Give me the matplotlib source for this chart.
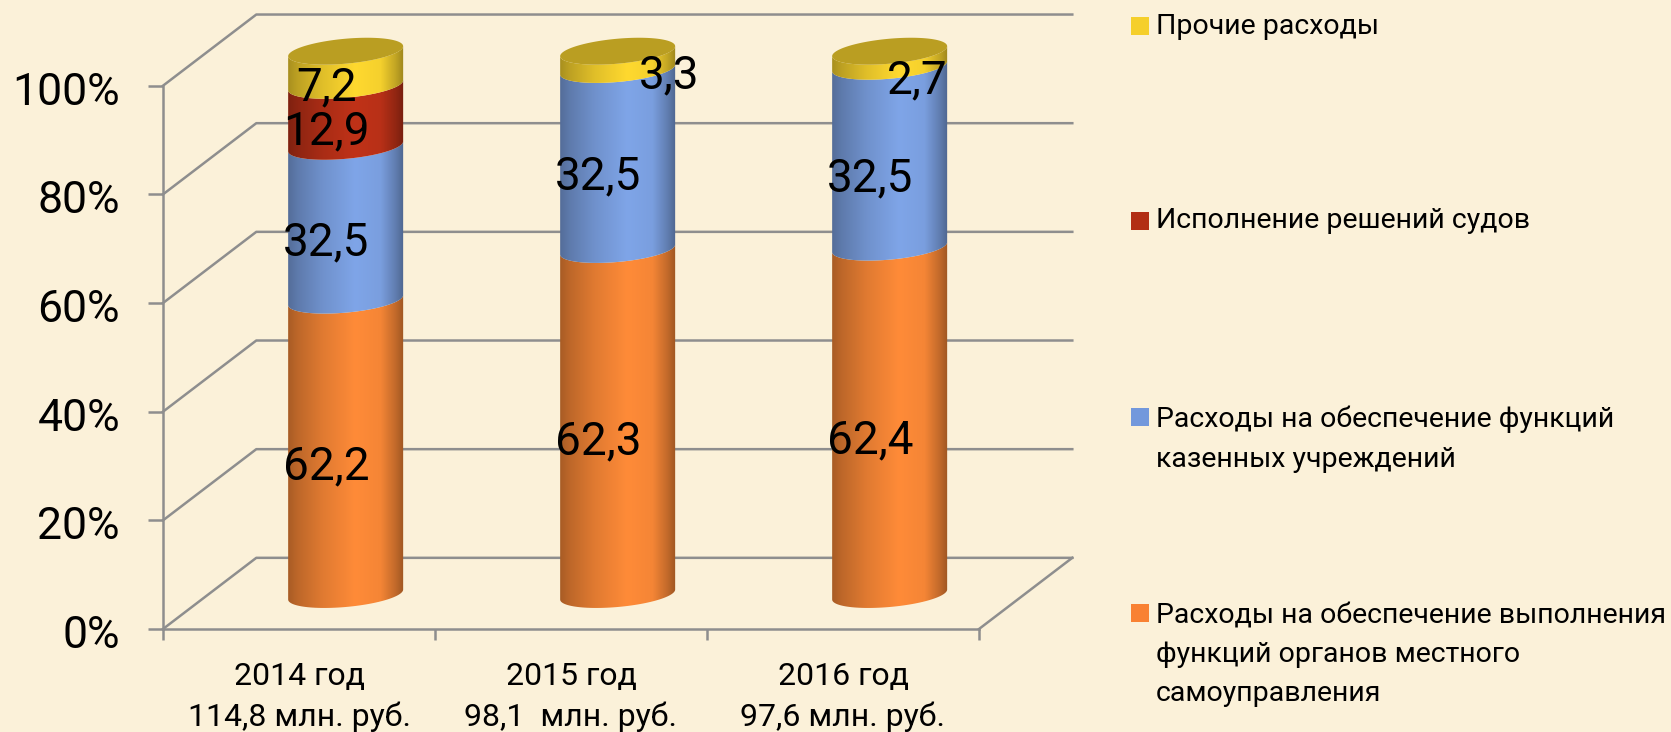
import numpy as np
import matplotlib
matplotlib.use('Agg')
import matplotlib.pyplot as plt
from matplotlib.patches import Polygon, Rectangle
from matplotlib.colors import to_rgb
from matplotlib.transforms import ScaledTranslation

# Data
years = ['2014 год\n114,8 млн. руб.', '2015 год\n98,1  млн. руб.', '2016 год\n97,6 млн. руб.']
organs = [62.2, 62.3, 62.4]
institutions = [32.5, 32.5, 32.5]
courts = [12.9, 0, 0]
other = [7.2, 3.3, 2.7]
y_ticks = [0, 20, 40, 60, 80, 100]

series = [organs, institutions, courts, other]
bar_colors = ['#FF8B38', '#7FA5E8', '#C03218', '#FFD92F']
legend_colors = ['#F98132', '#7298DC', '#B22E14', '#F5CF2B']
legend_names = ['Расходы на обеспечение выполнения\nфункций органов местного\nсамоуправления',
                'Расходы на обеспечение функций\nказенных учреждений',
                'Исполнение решений судов',
                'Прочие расходы']
legend_y = [613, 417, 221, 26]

plt.rcParams['font.family'] = ['Roboto', 'DejaVu Sans']
bg = '#FBF1D9'
grid = '#8E8E8E'

W, H = 1671, 732
fig = plt.figure(figsize=(W / 100, H / 100), dpi=100, facecolor=bg)
ax = fig.add_axes([163 / W, 1 - 629 / H, (979 - 163) / W, (629 - 85.7) / H])
ax.set_facecolor('none')
ax.set_xlim(0, 3)
ax.set_ylim(0, 100)

# 3D look: depth of the floor in data units
depth_x = 0.343
depth_y = 13.1
half_w = 0.2114
ell_b = 2.3
ell_tilt = 0.92

for v in y_ticks:
    ax.plot([0, depth_x, 3 + depth_x], [v, v + depth_y, v + depth_y], color=grid, lw=1.8,
            clip_on=False, zorder=1)
ax.plot([3, 3 + depth_x], [0, depth_y], color=grid, lw=1.8, clip_on=False, zorder=1)

for s in ['top', 'right']:
    ax.spines[s].set_visible(False)
for s in ['left', 'bottom']:
    ax.spines[s].set_color(grid)
    ax.spines[s].set_linewidth(1.8)

ax.set_yticks(y_ticks)
ax.set_yticklabels([f'{v}%' for v in y_ticks], fontsize=32, color='black')
ax.tick_params(axis='y', length=11, width=1.8, color=grid, pad=20)
for lab in ax.get_yticklabels():
    lab.set_transform(lab.get_transform() + ScaledTranslation(0, -2.5 / 100, fig.dpi_scale_trans))
ax.set_xticks([0, 1, 2, 3])
ax.set_xticklabels([])
ax.tick_params(axis='x', which='major', length=8, width=1.8, color=grid)
ax.set_xticks([0.5, 1.5, 2.5], minor=True)
ax.set_xticklabels(years, minor=True, fontsize=23, linespacing=1.43)
ax.tick_params(axis='x', which='minor', length=0, pad=24)


def front_arc(cx, cy):
    t = np.linspace(0, np.pi, 60)
    return cx + half_w * np.cos(t), cy + ell_tilt * np.cos(t) - ell_b * np.sin(t)


def shade(color):
    pos = np.linspace(0, 1, 200)
    k = np.interp(pos, [0, 0.08, 0.3, 0.58, 0.8, 0.93, 1], [0.66, 0.74, 0.88, 1, 0.96, 0.76, 0.62])
    return (np.outer(k, to_rgb(color)))[np.newaxis, :, :].clip(0, 1)


values = np.array(series, dtype=float)
pct = values / values.sum(axis=0) * 100
label_dx = [[0.10, 0.10, 0.10], [0.10, 0.10, 0.10], [0.10, 0, 0], [0.10, 0.36, 0.274]]
label_dy = [[2.8, 2.8, 2.8], [2.8, 3.2, 2.4], [3.4, 0, 0], [2.8, 3.6, 2.4]]

for i in range(len(years)):
    cx = i + 0.5 + depth_x / 2
    base = depth_y / 2 - 0.2
    bottom = 0
    for j, color in enumerate(bar_colors):
        p = pct[j][i]
        if values[j][i] == 0:
            continue
        x1, y1 = front_arc(cx, base + bottom)
        x2, y2 = front_arc(cx, base + bottom + p)
        pts = np.column_stack([np.r_[x1, x2[::-1]], np.r_[y1, y2[::-1]]])
        patch = Polygon(pts, closed=True, fc='none', ec='none', transform=ax.transData, clip_on=False)
        ax.add_patch(patch)
        im = ax.imshow(shade(color), extent=[cx - half_w, cx + half_w, 0, 125], aspect='auto',
                       zorder=2, interpolation='bilinear')
        im.set_clip_path(patch)
        im.set_clip_box(fig.bbox)
        bottom += p
        ax.text(i + 0.5 + label_dx[j][i], bottom - p / 2 + label_dy[j][i], f'{values[j][i]:.1f}'.replace('.', ','),
                ha='center', va='center', fontsize=33, color='black', zorder=5, clip_on=False)
        if j == len(bar_colors) - 1:
            # top cap of the cylinder
            xf, yf = front_arc(cx, base + bottom)
            t = np.linspace(np.pi, 2 * np.pi, 60)
            xb = cx + half_w * np.cos(t)
            yb = base + bottom + ell_tilt * np.cos(t) - ell_b * np.sin(t)
            cap = np.column_stack([np.r_[xf, xb], np.r_[yf, yb]])
            ax.add_patch(Polygon(cap, closed=True, fc=np.array(to_rgb(color)) * 0.73, ec='none',
                                 zorder=3, clip_on=False))

ax.set_xlim(0, 3)
ax.set_ylim(0, 100)

# Legend
for name, color, y in zip(legend_names, legend_colors, legend_y):
    fig.patches.append(Rectangle((1131 / W, 1 - (y + 9) / H), 18 / W, 18 / H, fc=color, ec='none',
                                 transform=fig.transFigure))
    if '\n' in name:
        fig.text(1156 / W, 1 - (y - 11) / H, name, ha='left', va='top', fontsize=20.5, linespacing=1.575)
    else:
        fig.text(1156 / W, 1 - y / H, name, ha='left', va='center', fontsize=20.5)

fig.savefig('out.png', dpi=100, facecolor=bg)
